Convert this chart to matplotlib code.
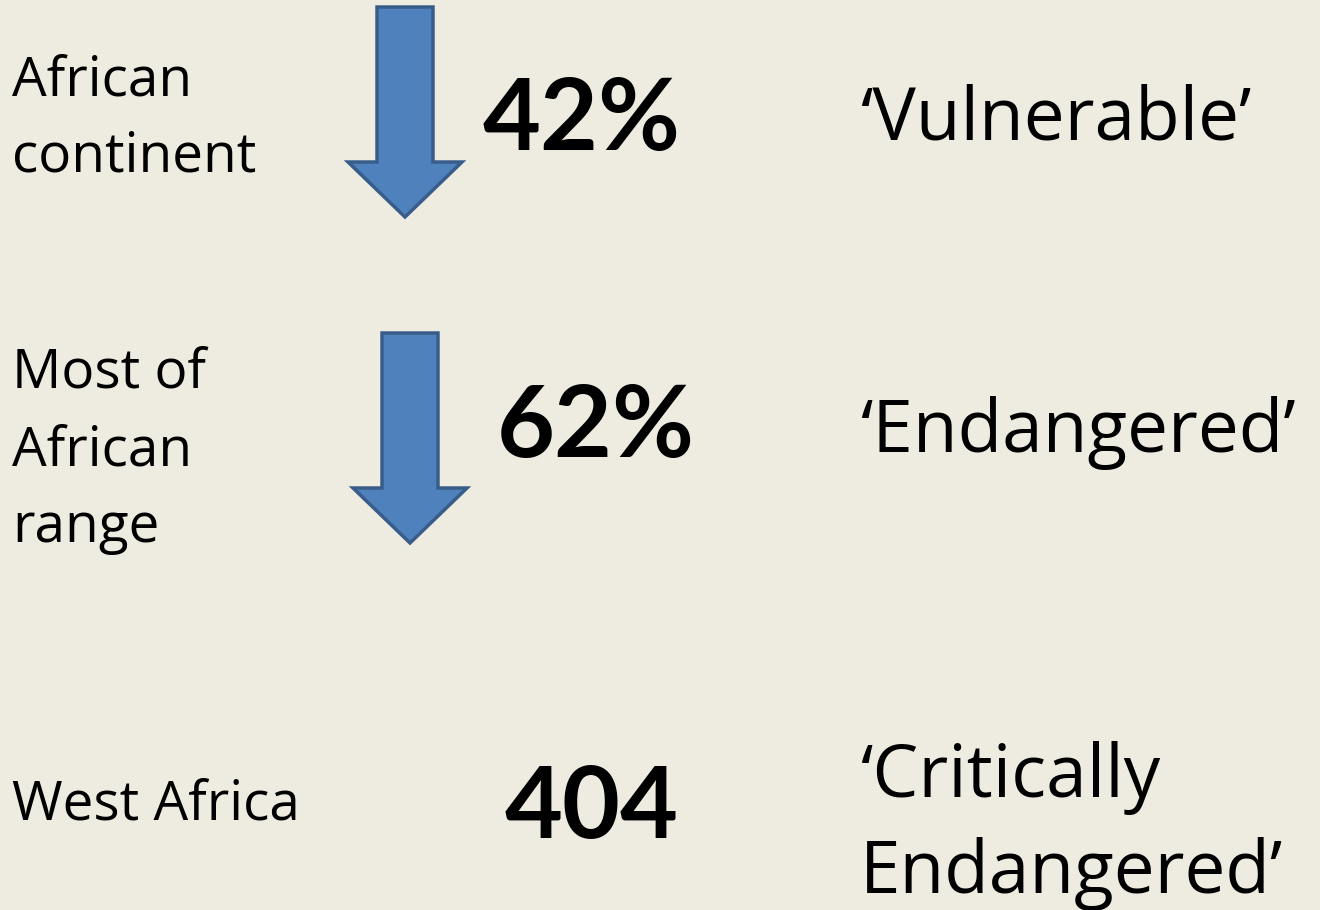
import matplotlib.pyplot as plt
from matplotlib.patches import Polygon

regions = [['African', 'continent'], ['Most of', 'African', 'range'], ['West Africa']]
values = ['42%', '62%', '404']
statuses = [['\u2018Vulnerable\u2019'], ['\u2018Endangered\u2019'],
            ['\u2018Critically', 'Endangered\u2019']]
declining = [True, True, False]

# layout, in pixels of the 1320x910 picture
W, H = 1320, 910
label_base = [95, 388, 820]        # baseline of first line of the left label
label_step = 77
value_base = [150, 457, 838]
value_x = [483, 497, 505]
status_base = [140, 452, 797]
status_step = 96
arrow_x = [405, 410]
arrow_top = [7, 333]

bg = '#EEECE1'
fill = '#4F81BD'
edge = '#385D8A'
font = 'Open Sans'

fig = plt.figure(figsize=(13.2, 9.1), dpi=100, facecolor=bg)
ax = fig.add_axes([0, 0, 1, 1])
ax.set_xlim(0, W)
ax.set_ylim(H, 0)
ax.axis('off')
ax.set_facecolor(bg)

for i in range(len(regions)):
    for k, line in enumerate(regions[i]):
        ax.text(12, label_base[i] + k * label_step, line, fontsize=39.5,
                family=font, va='baseline', ha='left')
    ax.text(value_x[i], value_base[i], values[i], fontsize=72, family='Lato',
            fontweight='bold', va='baseline', ha='left')
    for k, line in enumerate(statuses[i]):
        ax.text(860, status_base[i] + k * status_step, line, fontsize=52.5,
                family=font, va='baseline', ha='left')
    if declining[i]:
        cx, top = arrow_x[i], arrow_top[i]
        sw, hw, sl, hl = 28, 57, 155, 55
        pts = [(cx - sw, top), (cx + sw, top), (cx + sw, top + sl),
               (cx + hw, top + sl), (cx, top + sl + hl),
               (cx - hw, top + sl), (cx - sw, top + sl)]
        ax.add_patch(Polygon(pts, closed=True, facecolor=fill,
                             edgecolor=edge, linewidth=2.5, joinstyle='miter'))

fig.savefig('out.png', dpi=100, facecolor=bg)
